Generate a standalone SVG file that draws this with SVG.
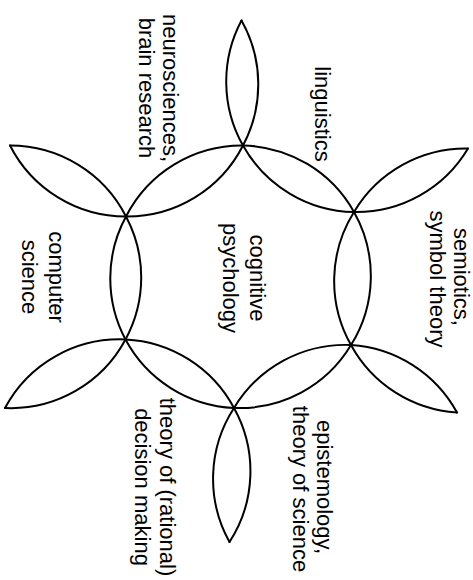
<svg xmlns="http://www.w3.org/2000/svg" width="473" height="580" viewBox="0 0 473 580">
<style>
.arc{fill:none;stroke:#000;stroke-width:2;stroke-linecap:round}
.lbl{font-family:"Liberation Sans",Arial,sans-serif;font-size:22px;fill:#000;text-anchor:middle}
</style>
<rect width="473" height="580" fill="#fff"/>
<g id="cognitive-psychology">
<path class="arc" d="M243,145.5 A130,130 0 0 1 354,212 A130,130 0 0 1 351,345 A130,130 0 0 1 234,408 A130,130 0 0 1 125.5,339.5 A130,130 0 0 1 126,216.5 A130,130 0 0 1 243,145.5 Z"/>
<text class="lbl" transform="translate(250,278) rotate(90)">cognitive</text>
<text class="lbl" transform="translate(223,278) rotate(90)">psychology</text>
</g>
<g id="linguistics">
<path class="arc" d="M241.5,20.5 A130,130 0 0 0 243,145.5 A130,130 0 0 0 354,212 A130,130 0 0 0 468,148.5"/>
<text class="lbl" transform="translate(315,114) rotate(90)">linguistics</text>
</g>
<g id="semiotics">
<path class="arc" d="M468,148.5 A130,130 0 0 0 354,212 A130,130 0 0 0 351,345 A130,130 0 0 0 457,412.5"/>
<text class="lbl" transform="translate(454,277) rotate(90)">semiotics,</text>
<text class="lbl" transform="translate(430,279) rotate(90)">symbol theory</text>
</g>
<g id="epistemology">
<path class="arc" d="M457,412.5 A130,130 0 0 0 351,345 A130,130 0 0 0 234,408 A130,130 0 0 0 229.5,542"/>
<text class="lbl" transform="translate(317,487) rotate(90)">epistemology,</text>
<text class="lbl" transform="translate(293,489) rotate(90)">theory of science</text>
</g>
<g id="decision-theory">
<path class="arc" d="M229.5,542 A130,130 0 0 0 234,408 A130,130 0 0 0 125.5,339.5 A130,130 0 0 0 5,408"/>
<text class="lbl" transform="translate(160,487) rotate(90)">theory of (rational)</text>
<text class="lbl" transform="translate(135,487) rotate(90)">decision making</text>
</g>
<g id="computer-science">
<path class="arc" d="M5,408 A130,130 0 0 0 125.5,339.5 A130,130 0 0 0 126,216.5 A130,130 0 0 0 10,145.5"/>
<text class="lbl" transform="translate(49,277) rotate(90)">computer</text>
<text class="lbl" transform="translate(22,277) rotate(90)">science</text>
</g>
<g id="neurosciences">
<path class="arc" d="M10,145.5 A130,130 0 0 0 126,216.5 A130,130 0 0 0 243,145.5 A130,130 0 0 0 241.5,20.5"/>
<text class="lbl" transform="translate(163,88) rotate(90)">neurosciences,</text>
<text class="lbl" transform="translate(139,88) rotate(90)">brain research</text>
</g>
<g id="connectors"></g>
</svg>
